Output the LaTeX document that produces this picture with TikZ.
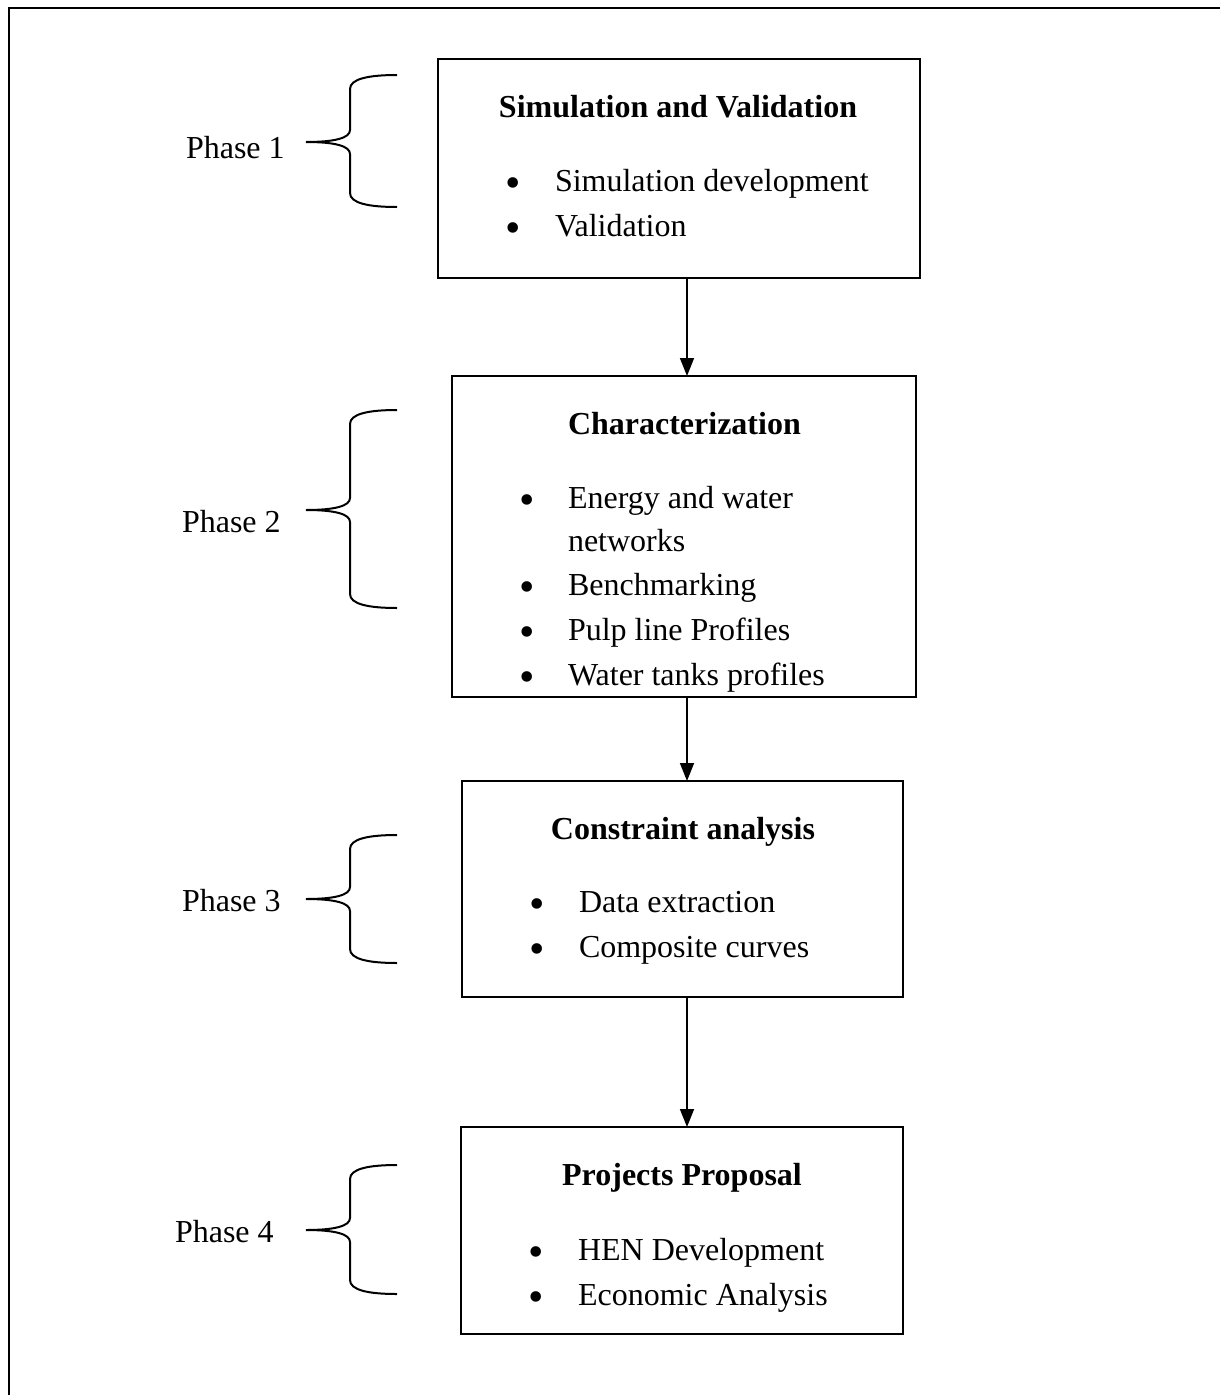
\documentclass[tikz,border=0pt]{standalone}
\usepackage{fontspec}
\setmainfont{Liberation Serif}
\usetikzlibrary{arrows.meta}
\begin{document}
\begin{tikzpicture}[x=1pt,y=-1pt,
  every node/.style={inner sep=0pt,outer sep=0pt},
  box/.style={draw,line width=2pt},
  title/.style={anchor=base,font=\fontsize{32}{38}\selectfont\bfseries},
  titlew/.style={anchor=base west,font=\fontsize{32}{38}\selectfont\bfseries},
  item/.style={anchor=base west,font=\fontsize{32}{38}\selectfont},
  bul/.style={anchor=center,font=\fontsize{44}{44}\selectfont},
  phase/.style={anchor=base west,font=\fontsize{32}{38}\selectfont},
  arr/.style={line width=1.6pt,-{Triangle[length=18pt,width=14pt]}},
  brace/.style={line width=2pt}]
\useasboundingbox (0,0) rectangle (1220,1395);
% outer frame (only top and left edges visible)
\draw[line width=2pt] (1222,8) -- (9,8) -- (9,1397);

% boxes
\node[box,minimum width=482pt,minimum height=219pt] (b1) at (679,168.5) {};
\node[box,minimum width=464pt,minimum height=321pt] (b2) at (684,536.5) {};
\node[box,minimum width=441pt,minimum height=216pt] (b3) at (682.5,889) {};
\node[box,minimum width=442pt,minimum height=207pt] (b4) at (682,1230.5) {};

% box 1
\node[title] (b1t) at (678,117) {Simulation and Validation};
\node[bul] (b1a) at (513,188) {\textbullet};
\node[item] (b1i1) at (555,191) {Simulation development};
\node[bul] (b1b) at (513,233) {\textbullet};
\node[item] (b1i2) at (555,236) {Validation};

% box 2
\node[titlew] (b2t) at (568,434) {Characterization};
\node[bul] (b2a) at (527,505) {\textbullet};
\node[item] (b2i1) at (568,508) {Energy and water};
\node[item] (b2i1b) at (568,551) {networks};
\node[bul] (b2b) at (527,592) {\textbullet};
\node[item] (b2i2) at (568,595) {Benchmarking};
\node[bul] (b2c) at (527,637) {\textbullet};
\node[item] (b2i3) at (568,640) {Pulp line Profiles};
\node[bul] (b2d) at (527,682) {\textbullet};
\node[item] (b2i4) at (568,685) {Water tanks profiles};

% box 3
\node[title] (b3t) at (683,839) {Constraint analysis};
\node[bul] (b3a) at (537,909) {\textbullet};
\node[item] (b3i1) at (579,912) {Data extraction};
\node[bul] (b3b) at (537,954) {\textbullet};
\node[item] (b3i2) at (579,957) {Composite curves};

% box 4
\node[title] (b4t) at (682,1185) {Projects Proposal};
\node[bul] (b4a) at (536,1257) {\textbullet};
\node[item] (b4i1) at (578,1260) {HEN Development};
\node[bul] (b4b) at (536,1302) {\textbullet};
\node[item] (b4i2) at (578,1305) {Economic Analysis};

% arrows
\coordinate (ax) at (687,0);
\draw[arr] (b1.south -| ax) -- (b2.north -| ax);
\draw[arr] (b2.south -| ax) -- (b3.north -| ax);
\draw[arr] (b3.south -| ax) -- (b4.north -| ax);

% phase labels
\node[phase] (p1) at (186,158) {Phase 1};
\node[phase] (p2) at (182,532) {Phase 2};
\node[phase] (p3) at (182,911) {Phase 3};
\node[phase] (p4) at (175,1242) {Phase 4};

% braces
\foreach \t/\m/\b in {75/142/207, 410/510/608, 835/899/963, 1165/1230/1294}{
  \draw[brace] (397,\t) .. controls (368,\t) and (350,\t+4) .. (350,\t+14)
    -- (350,\m-12) .. controls (350,\m-4) and (335,\m) .. (306,\m)
    .. controls (335,\m) and (350,\m+4) .. (350,\m+12)
    -- (350,\b-14) .. controls (350,\b-4) and (368,\b) .. (397,\b);
}
\end{tikzpicture}
\end{document}
